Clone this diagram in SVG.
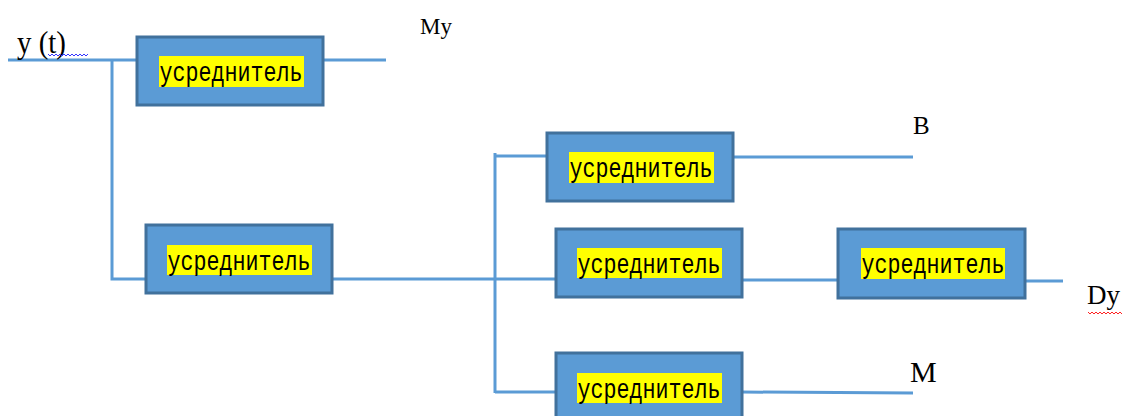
<svg xmlns="http://www.w3.org/2000/svg" width="1123" height="416" viewBox="0 0 1123 416">
<style>
.box{fill:#5B9BD5;stroke:#41719C;stroke-width:3}
.hl{fill:#FFFF00}
.lbl{font-family:"Liberation Mono","Courier New",monospace;font-size:22px;fill:#000;text-anchor:middle}
.ln{stroke:#5B9BD5;stroke-width:3;fill:none}
.t{font-family:"Liberation Serif","Times New Roman",serif;fill:#000}
.sq{fill:none;stroke-width:1}
</style>
<rect width="1123" height="416" fill="#fff"/>
<g id="connectors">
<line class="ln" x1="8" y1="60" x2="137" y2="60"/>
<line class="ln" x1="323" y1="60" x2="386" y2="60"/>
<polyline class="ln" points="112,60 112,279 146,279"/>
<line class="ln" x1="332" y1="279" x2="556" y2="279"/>
<line class="ln" x1="495" y1="153" x2="495" y2="393"/>
<line class="ln" x1="495" y1="156" x2="547" y2="156"/>
<line class="ln" x1="495" y1="392" x2="556" y2="392"/>
<line class="ln" x1="733" y1="157" x2="913" y2="157"/>
<line class="ln" x1="742" y1="280" x2="838" y2="280"/>
<line class="ln" x1="1025" y1="281" x2="1063" y2="281"/>
<line class="ln" x1="742" y1="392" x2="913" y2="393"/>
</g>
<g id="node1">
<rect class="box" x="137" y="37" width="186" height="68"/>
<rect class="hl" x="159" y="56" width="145" height="31"/>
<text class="lbl" transform="translate(231,81) scale(1,1.25)" textLength="143" lengthAdjust="spacingAndGlyphs">усреднитель</text>
</g>
<g id="node2">
<rect class="box" x="146" y="225" width="186" height="68"/>
<rect class="hl" x="167" y="245" width="145" height="30"/>
<text class="lbl" transform="translate(239,270) scale(1,1.25)" textLength="143" lengthAdjust="spacingAndGlyphs">усреднитель</text>
</g>
<g id="node3">
<rect class="box" x="547" y="133" width="186" height="68"/>
<rect class="hl" x="569" y="152" width="145" height="31"/>
<text class="lbl" transform="translate(641,177) scale(1,1.25)" textLength="143" lengthAdjust="spacingAndGlyphs">усреднитель</text>
</g>
<g id="node4">
<rect class="box" x="556" y="229" width="186" height="68"/>
<rect class="hl" x="577" y="248" width="145" height="30"/>
<text class="lbl" transform="translate(649,273) scale(1,1.25)" textLength="143" lengthAdjust="spacingAndGlyphs">усреднитель</text>
</g>
<g id="node5">
<rect class="box" x="838" y="229" width="187" height="69"/>
<rect class="hl" x="861" y="248" width="144" height="31"/>
<text class="lbl" transform="translate(933,273) scale(1,1.25)" textLength="143" lengthAdjust="spacingAndGlyphs">усреднитель</text>
</g>
<g id="node6">
<rect class="box" x="556" y="353" width="186" height="68"/>
<rect class="hl" x="577" y="373" width="145" height="30"/>
<text class="lbl" transform="translate(649,398) scale(1,1.25)" textLength="143" lengthAdjust="spacingAndGlyphs">усреднитель</text>
</g>
<g id="labels">
<text class="t" transform="translate(17,53) scale(1,1.12)" font-size="29" textLength="49" lengthAdjust="spacingAndGlyphs">y (t)</text>
<polyline class="sq" stroke="#3333ff" points="48,54 50,56 52,54 54,56 56,54 58,56 60,54 62,56 64,54 66,56 68,54 70,56 72,54 74,56 76,54 78,56 80,54 82,56 84,54 86,56 88,54"/>
<text class="t" x="420" y="34" font-size="23">My</text>
<text class="t" x="913" y="134" font-size="25">B</text>
<text class="t" x="910" y="382" font-size="30">M</text>
<text class="t" x="1087" y="304" font-size="27">Dy</text>
<polyline class="sq" stroke="#ff2222" points="1088,312 1090,314 1092,312 1094,314 1096,312 1098,314 1100,312 1102,314 1104,312 1106,314 1108,312 1110,314 1112,312 1114,314 1116,312 1118,314 1120,312 1122,314"/>
</g>
</svg>
